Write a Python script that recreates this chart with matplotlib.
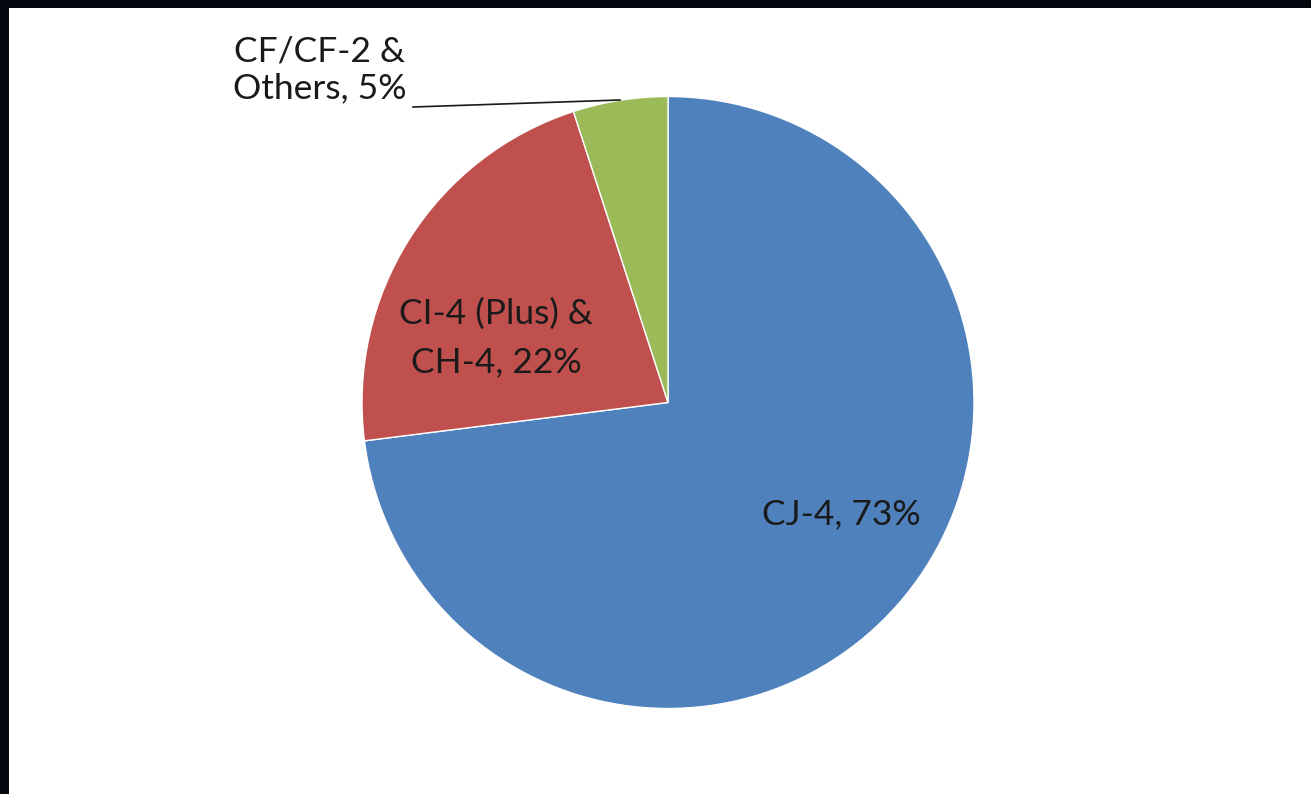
import matplotlib
matplotlib.use("Agg")
import matplotlib.pyplot as plt
from matplotlib.patches import Rectangle

categories = ["CJ-4", "CI-4 (Plus) &\nCH-4", "CF/CF-2 &\nOthers"]
shares = [73, 22, 5]
colors = ["#4F81BD", "#C0504D", "#9BBB59"]

W, H = 1311, 794
fig = plt.figure(figsize=(W / 100, H / 100), dpi=100)
fig.patch.set_facecolor("white")
ax = fig.add_axes([0, 0, 1, 1])

cx, cy, r = 668, H - 402.5, 306
wedges, _ = ax.pie(shares, colors=colors, startangle=90, counterclock=False,
                   center=(cx, cy), radius=r, frame=True,
                   wedgeprops=dict(edgecolor="white", linewidth=1))
ax.set_xlim(0, W)
ax.set_ylim(0, H)
ax.set_aspect("equal")
ax.axis("off")

font = dict(family="Lato", fontsize=25.5, color="#1a1a1a")
labels = [f"{c}, {v}%" for c, v in zip(categories, shares)]
ax.text(841, H - 514, labels[0], ha="center", va="center", **font)
ax.text(496, H - 338, labels[1], ha="center", va="center",
        multialignment="center", linespacing=1.6, **font)
ax.text(320, H - 70, labels[2], ha="center", va="center",
        multialignment="center", linespacing=1.2, **font)
ax.plot([413, 620], [H - 107, H - 100], color="#1a1a1a", lw=1.2)

# dark frame edges (top and left)
fig.patches.append(Rectangle((0, 1 - 8 / H), 1, 8 / H, transform=fig.transFigure,
                             facecolor="#05080f", edgecolor="none"))
fig.patches.append(Rectangle((0, 0), 9 / W, 1, transform=fig.transFigure,
                             facecolor="#05080f", edgecolor="none"))

fig.savefig("out.png", dpi=100, facecolor="white")
